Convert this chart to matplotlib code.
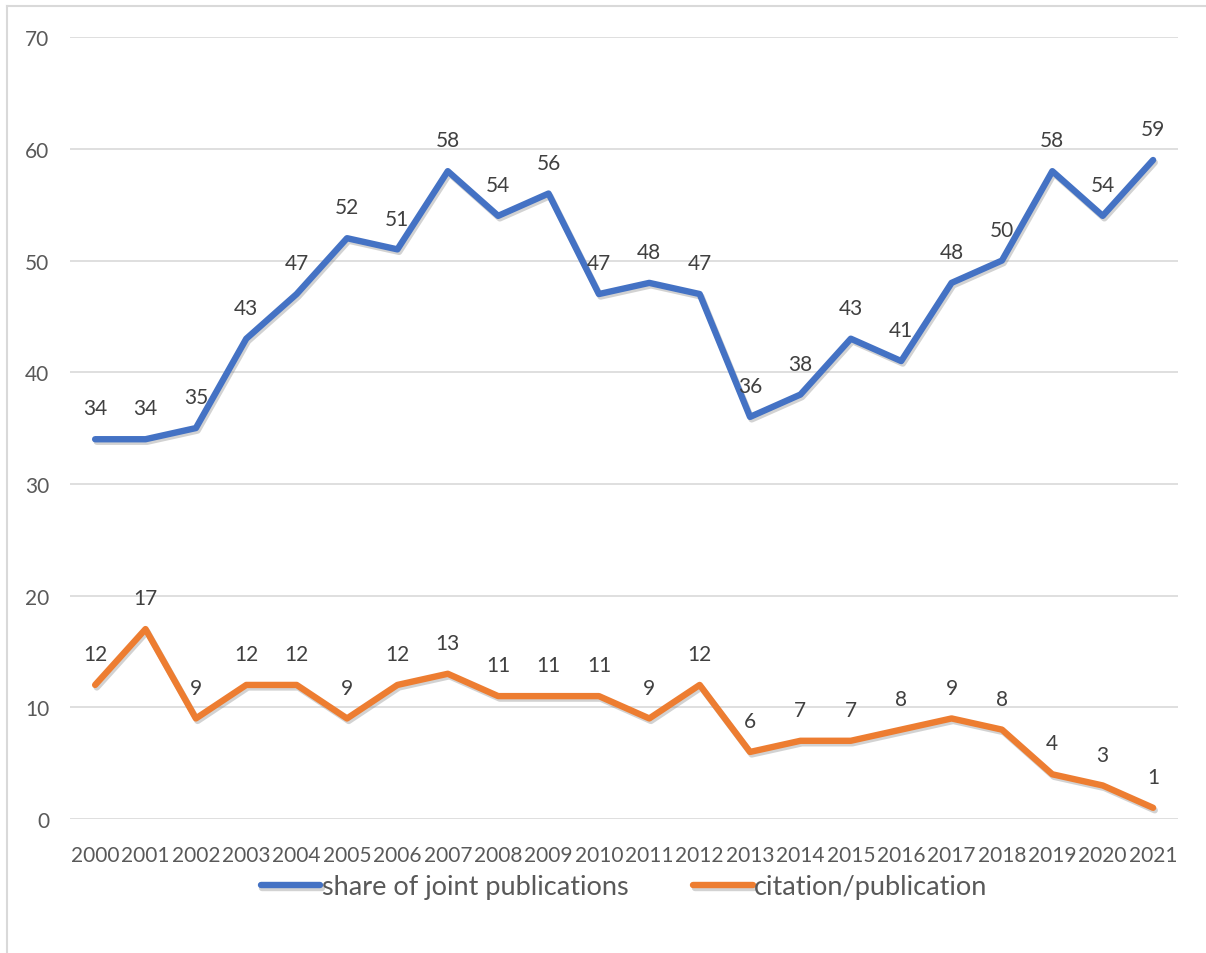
import matplotlib.pyplot as plt
import matplotlib.patheffects as pe

# datos del grafico
anios = [str(a) for a in range(2000, 2022)]
share_joint = [34, 34, 35, 43, 47, 52, 51, 58, 54, 56, 47, 48, 47, 36, 38, 43, 41, 48, 50, 58, 54, 59]
citation_pub = [12, 17, 9, 12, 12, 9, 12, 13, 11, 11, 11, 9, 12, 6, 7, 7, 8, 9, 8, 4, 3, 1]

plt.rcParams['font.family'] = ['Lato', 'DejaVu Sans']

fig = plt.figure(figsize=(12.06, 9.54), dpi=100)
ax = fig.add_axes([0.058, 0.1405, 0.919, 0.8195])

x = list(range(len(anios)))
sombra = [pe.SimpleLineShadow(offset=(1.2, -1.8), shadow_color='gray', alpha=0.35), pe.Normal()]

ax.plot(x, share_joint, color='#4472C4', lw=4.6, solid_capstyle='round',
        label='share of joint publications', path_effects=sombra, zorder=3)
ax.plot(x, citation_pub, color='#ED7D31', lw=4.6, solid_capstyle='round',
        label='citation/publication', path_effects=sombra, zorder=3)

# etiquetas de datos
for serie in (share_joint, citation_pub):
    for xi, v in zip(x, serie):
        ax.annotate(str(v), (xi, v), xytext=(0, 15), textcoords='offset points',
                    ha='center', va='bottom', fontsize=15, color='#404040')

ax.set_xlim(-0.5, len(anios) - 0.5)
ax.set_ylim(0, 70)
ax.set_yticks(range(0, 71, 10))
ax.set_xticks(x)
ax.set_xticklabels(anios)
ax.yaxis.grid(True, color='#D9D9D9', lw=1.2)
ax.set_axisbelow(True)
for s in ax.spines.values():
    s.set_visible(False)
ax.tick_params(axis='both', length=0, labelsize=15, colors='#595959')
ax.tick_params(axis='x', pad=19)
ax.tick_params(axis='y', pad=15)

ax.legend(loc='center', bbox_to_anchor=(0.5, -0.087), ncol=2, frameon=False,
          fontsize=19.5, labelcolor='#595959', handlelength=2.2, handletextpad=0.05,
          columnspacing=2.4)

# borde del grafico
fig.add_artist(plt.Line2D([0.006, 1.0], [0.993, 0.993], color='#D9D9D9', lw=1.5))
fig.add_artist(plt.Line2D([0.006, 0.006], [0.0, 0.993], color='#D9D9D9', lw=1.5))

fig.savefig('out.png', dpi=100)
